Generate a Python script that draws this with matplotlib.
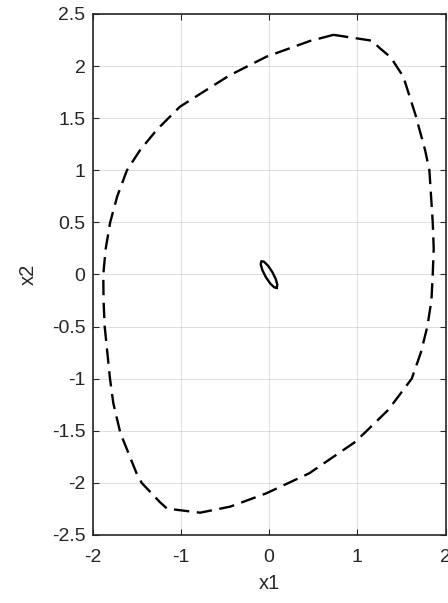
import matplotlib
matplotlib.use("Agg")
import matplotlib.pyplot as plt

plt.rcParams['font.family'] = ['Liberation Sans', 'DejaVu Sans']
plt.rcParams['axes.unicode_minus'] = False

# outer boundary (dashed)
x_outer = [0.73, 0.46, -0.03, -0.45, -1.01, -1.27, -1.46, -1.61, -1.72, -1.80,
           -1.85, -1.878, -1.875, -1.862, -1.802, -1.764, -1.685, -1.50, -1.443,
           -1.235, -1.155, -0.78, -0.44, -0.03, 0.456, 0.98, 1.35, 1.617, 1.72,
           1.794, 1.84, 1.855, 1.866, 1.855, 1.817, 1.768, 1.66, 1.522, 1.379,
           1.258, 1.164, 0.73]
y_outer = [2.30, 2.24, 2.09, 1.91, 1.61, 1.39, 1.195, 1.00, 0.75, 0.50,
           0.25, 0.0, -0.25, -0.5, -1.0, -1.236, -1.52, -1.91, -2.0,
           -2.186, -2.247, -2.286, -2.228, -2.10, -1.908, -1.605, -1.30, -1.0, -0.75,
           -0.5, -0.25, 0.0, 0.25, 0.5, 1.0, 1.195, 1.53, 1.898, 2.084,
           2.17, 2.244, 2.30]

# small inner ellipse (solid)
x_inner = [0.087, 0.094, 0.076, 0.037, -0.012, -0.058, -0.087, -0.094, -0.076,
           -0.037, 0.012, 0.058, 0.087]
y_inner = [-0.128, -0.098, -0.043, 0.024, 0.085, 0.123, 0.128, 0.098, 0.043,
           -0.024, -0.085, -0.123, -0.128]

xticks = [-2, -1, 0, 1, 2]
xtick_labels = ['-2', '-1', '0', '1', '2']
yticks = [-2.5, -2, -1.5, -1, -0.5, 0, 0.5, 1, 1.5, 2, 2.5]
ytick_labels = ['-2.5', '-2', '-1.5', '-1', '-0.5', '0', '0.5', '1', '1.5', '2', '2.5']

fig = plt.figure(figsize=(4.48, 6.03), dpi=100)
ax = fig.add_axes([0.2065, 0.1128, 0.788, 0.864])

ax.plot(x_outer, y_outer, color='k', lw=1.7, linestyle=(0, (6.5, 3.2)))
ax.plot(x_inner, y_inner, color='k', lw=1.7)

ax.set_xlim(-2, 2)
ax.set_ylim(-2.5, 2.5)
ax.set_xticks(xticks)
ax.set_xticklabels(xtick_labels)
ax.set_yticks(yticks)
ax.set_yticklabels(ytick_labels)

dark = (0.15, 0.15, 0.15)
ax.grid(True, color=dark, alpha=0.15, lw=0.7)
ax.set_axisbelow(True)
for s in ax.spines.values():
    s.set_color(dark)
    s.set_linewidth(1.2)
ax.tick_params(direction='in', length=4.5, width=0.8, colors=dark,
               labelsize=14, top=True, right=True)
ax.tick_params(axis='y', pad=5)
ax.tick_params(axis='x', pad=10)

ax.set_xlabel('x1', fontsize=14.5, color=dark, labelpad=6)
ax.set_ylabel('x2', fontsize=14.5, color=dark, labelpad=10)

fig.savefig('out.png', dpi=100)
